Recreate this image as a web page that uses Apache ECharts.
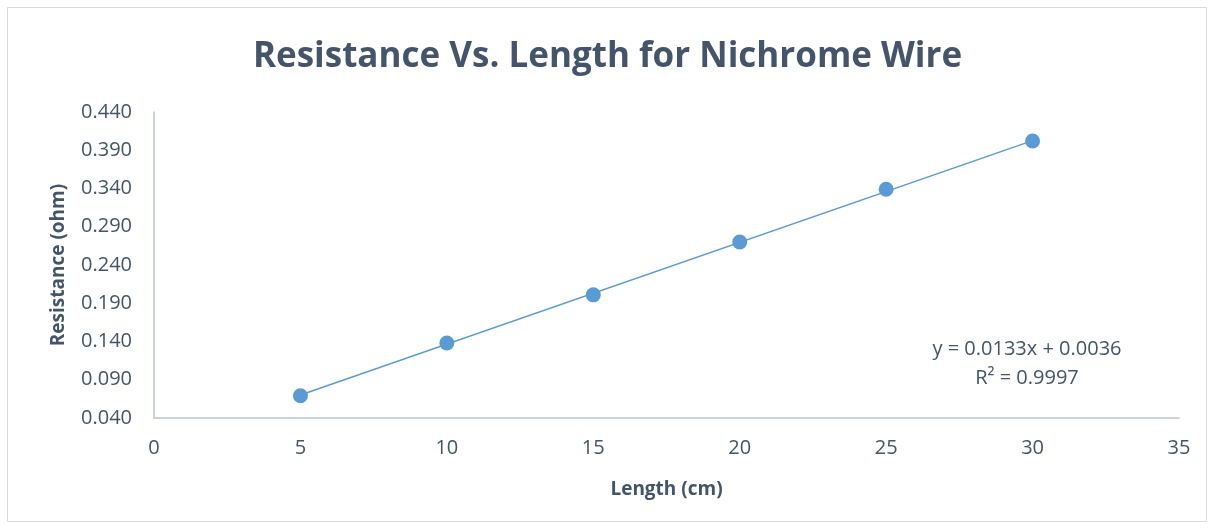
<!DOCTYPE html>
<html><head><meta charset="utf-8">
<script src="https://cdn.jsdelivr.net/npm/echarts@6/dist/echarts.min.js"></script>
<style>html,body{margin:0;padding:0;background:#fff}#c{width:1215px;height:529px}</style>
</head><body><div id="c"></div>
<script>
var lengths = [5, 10, 15, 20, 25, 30];
var resistance = [0.069, 0.138, 0.201, 0.270, 0.339, 0.402];
var trendX = [5, 30];
var trendY = [0.0701, 0.4026];
var xTicks = [0, 5, 10, 15, 20, 25, 30, 35];
var yTicks = [0.040, 0.090, 0.140, 0.190, 0.240, 0.290, 0.340, 0.390, 0.440];
var titleText = 'Resistance Vs. Length for Nichrome Wire';
var eqText = 'y = 0.0133x + 0.0036';
var r2Text = 'R² = 0.9997';

var font = 'Open Sans';
var txt = '#44546A';
var chart = echarts.init(document.getElementById('c'), null, {renderer: 'canvas'});
chart.setOption({
  animation: false,
  backgroundColor: '#fff',
  title: {text: titleText, left: 'center', top: 35,
    textStyle: {fontFamily: font, fontWeight: 'bold', fontSize: 35, color: txt}},
  grid: {left: 154, right: 36, top: 112, bottom: 111},
  xAxis: {type: 'value', min: xTicks[0], max: xTicks[xTicks.length - 1], interval: 5,
    name: 'Length (cm)', nameLocation: 'middle', nameGap: 62,
    nameTextStyle: {fontFamily: font, fontWeight: 'bold', fontSize: 19, color: txt},
    axisLine: {show: true, lineStyle: {color: '#BCC4D3', width: 1.5}},
    axisTick: {show: false}, splitLine: {show: false},
    axisLabel: {fontFamily: font, fontSize: 20, color: txt, margin: 20}},
  yAxis: {type: 'value', min: 0.04, max: 0.44, interval: 0.05,
    name: 'Resistance (ohm)', nameLocation: 'middle', nameGap: 86,
    nameTextStyle: {fontFamily: font, fontWeight: 'bold', fontSize: 19, color: txt},
    axisLine: {show: true, lineStyle: {color: '#BCC4D3', width: 1.5}},
    axisTick: {show: false}, splitLine: {show: false},
    axisLabel: {fontFamily: font, fontSize: 20, color: txt, margin: 22,
      formatter: function (v) { return v.toFixed(3); }}},
  graphic: [
    {type: 'rect', shape: {x: 7.5, y: 7.5, width: 1199, height: 514},
      style: {fill: 'none', stroke: '#D9D9D9', lineWidth: 1}, silent: true, z: -1},
    {type: 'text', x: 1027, y: 349, style: {text: eqText, fontFamily: font, fontSize: 20,
      fill: txt, textAlign: 'center', textVerticalAlign: 'middle'}},
    {type: 'text', x: 1027, y: 378, style: {text: r2Text, fontFamily: font, fontSize: 20,
      fill: txt, textAlign: 'center', textVerticalAlign: 'middle'}}
  ],
  series: [
    {type: 'line', data: trendX.map(function (x, i) { return [x, trendY[i]]; }),
      symbol: 'none', lineStyle: {color: '#5B9BD5', width: 1.5}, z: 1},
    {type: 'scatter', data: lengths.map(function (x, i) { return [x, resistance[i]]; }),
      symbolSize: 15, itemStyle: {color: '#5B9BD5', opacity: 1}, z: 2}
  ]
});
</script></body></html>
